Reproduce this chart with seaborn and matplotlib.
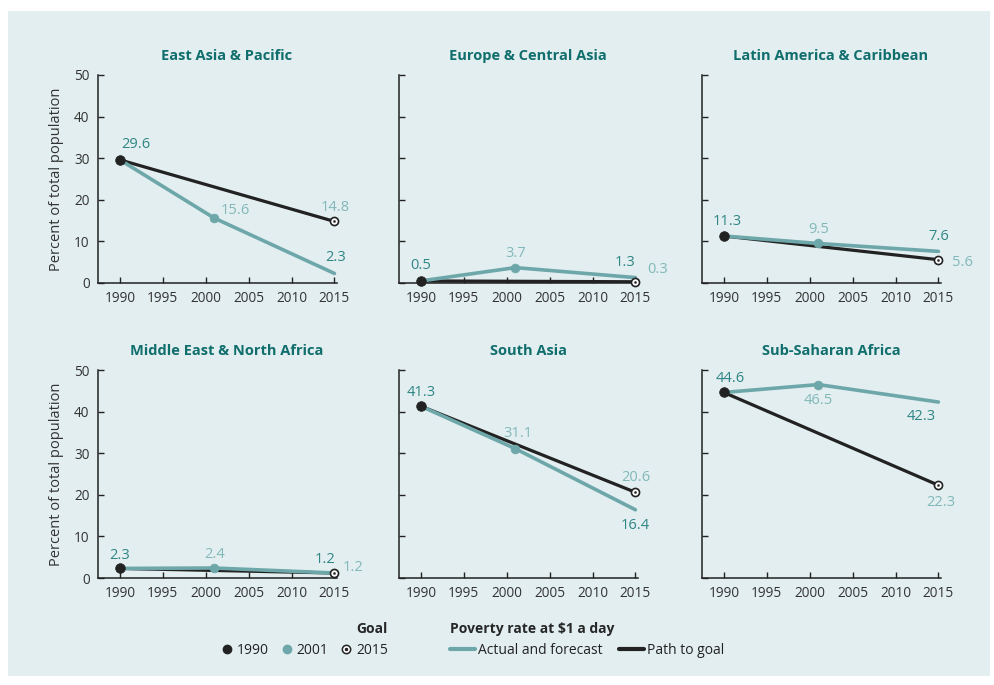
import matplotlib.pyplot as plt
from matplotlib import font_manager
from matplotlib.lines import Line2D
from matplotlib.patches import Rectangle
import pandas as pd
import seaborn as sns

# Data
regions = ["East Asia & Pacific", "Europe & Central Asia", "Latin America & Caribbean",
           "Middle East & North Africa", "South Asia", "Sub-Saharan Africa"]
years = [1990, 2001, 2015]
goal_years = [1990, 2015]
actual = [[29.6, 15.6, 2.3],
          [0.5, 3.7, 1.3],
          [11.3, 9.5, 7.6],
          [2.3, 2.4, 1.2],
          [41.3, 31.1, 16.4],
          [44.6, 46.5, 42.3]]
goal = [[29.6, 14.8],
        [0.5, 0.3],
        [11.3, 5.6],
        [2.3, 1.2],
        [41.3, 20.6],
        [44.6, 22.3]]
year_ticks = [1990, 1995, 2000, 2005, 2010, 2015]
pct_ticks = [0, 10, 20, 30, 40, 50]

# label offsets in pixels: 1990, 2001, 2015 actual, 2015 goal
label_offsets = [
    [(16, 15), (21, 8), (1, 16), (1, 14)],
    [(0, 15), (0, 14), (-10, 15), (22, 12)],
    [(3, 14), (0, 14), (0, 15), (24, -3)],
    [(0, 13), (0, 14), (-9, 14), (19, 6)],
    [(0, 14), (3, 15), (0, -16), (0, 15)],
    [(6, 14), (0, -16), (-17, -14), (2, -17)],
]

BG = "#e2eef0"
TEAL = "#6ea7aa"
DARK_LBL = "#2f8584"
LIGHT_LBL = "#82b8b9"
TITLE_C = "#106e6c"
INK = "#222222"

sns.set_style("ticks")
names = {f.name for f in font_manager.fontManager.ttflist}
font = "Liberation Sans Narrow" if "Liberation Sans Narrow" in names else "Open Sans"
plt.rcParams["font.family"] = [font, "DejaVu Sans"]

W, H = 995, 685
fig = plt.figure(figsize=(W / 100, H / 100), dpi=100)
fig.patch.set_facecolor("white")
fig.patches.append(Rectangle((8 / W, 1 - 676 / H), 982 / W, 665 / H,
                             transform=fig.transFigure, facecolor=BG,
                             edgecolor="none", zorder=-10))

left_px = [98, 399, 702]
top_px = [75, 370]
ax_w, ax_h = 239, 208

for i, name in enumerate(regions):
    r, c = divmod(i, 3)
    ax = fig.add_axes([left_px[c] / W, 1 - (top_px[r] + ax_h) / H, ax_w / W, ax_h / H])
    ax.set_facecolor("none")

    df_a = pd.DataFrame({"year": years, "value": actual[i]})
    df_g = pd.DataFrame({"year": goal_years, "value": goal[i]})
    sns.lineplot(data=df_g, x="year", y="value", ax=ax, color=INK, linewidth=2.3, zorder=2)
    sns.lineplot(data=df_a, x="year", y="value", ax=ax, color=TEAL, linewidth=2.6, zorder=3)

    sns.scatterplot(x=[years[0]], y=[actual[i][0]], ax=ax, color=INK, s=48,
                    edgecolor=INK, zorder=5, clip_on=False)
    sns.scatterplot(x=[years[1]], y=[actual[i][1]], ax=ax, color=TEAL, s=40,
                    edgecolor=TEAL, zorder=5, clip_on=False)
    sns.scatterplot(x=[goal_years[1]], y=[goal[i][1]], ax=ax, color="white", s=34,
                    edgecolor=INK, linewidth=1.2, zorder=5, clip_on=False)
    sns.scatterplot(x=[goal_years[1]], y=[goal[i][1]], ax=ax, color=INK, s=3,
                    edgecolor=INK, zorder=6, clip_on=False)

    pts = [(years[0], actual[i][0], DARK_LBL),
           (years[1], actual[i][1], LIGHT_LBL),
           (years[2], actual[i][2], DARK_LBL),
           (goal_years[1], goal[i][1], LIGHT_LBL)]
    for (x, y, col), (dx, dy) in zip(pts, label_offsets[i]):
        ax.annotate(f"{y:.1f}", (x, y), xytext=(dx, dy), textcoords="offset pixels",
                    ha="center", va="center", fontsize=10.5, color=col, zorder=7)

    ax.set_xlim(1987.45, 2015.3)
    ax.set_ylim(0, 50)
    ax.set_xticks(year_ticks)
    ax.set_yticks(pct_ticks)
    ax.tick_params(direction="in", length=4, width=1, color=INK, labelsize=9.8,
                   labelcolor="#333333")
    ax.tick_params(axis="x", pad=6)
    ax.tick_params(axis="y", pad=6)
    for s in ["top", "right"]:
        ax.spines[s].set_visible(False)
    for s in ["left", "bottom"]:
        ax.spines[s].set_color(INK)
        ax.spines[s].set_linewidth(1.1)
    ax.set_xlabel("")
    if c == 0:
        ax.set_ylabel("Percent of total population", fontsize=10.5, color="#333333",
                      labelpad=7)
    else:
        ax.set_ylabel("")
        ax.set_yticklabels([])
    ax.set_title(name, x=0.54, pad=11, fontsize=10.5, fontweight="bold", color=TITLE_C)

# legends
goal_handles = [
    Line2D([], [], marker="o", color=INK, linestyle="none", markersize=6),
    Line2D([], [], marker="o", color=TEAL, linestyle="none", markersize=6),
    (Line2D([], [], marker="o", markerfacecolor="white", markeredgecolor=INK,
            linestyle="none", markersize=6, markeredgewidth=1.1),
     Line2D([], [], marker="o", color=INK, linestyle="none", markersize=1.5)),
]
leg1 = fig.legend(goal_handles, ["1990", "2001", "2015"], ncol=3, title="Goal",
                  loc="upper right", bbox_to_anchor=(388 / W, 1 - 622 / H),
                  frameon=False, handlelength=0.8, handletextpad=0.3, columnspacing=0.9,
                  borderpad=0, borderaxespad=0, fontsize=10, alignment="right",
                  title_fontproperties={"weight": "bold", "size": 10})
line_handles = [Line2D([], [], color=TEAL, linewidth=3),
                Line2D([], [], color=INK, linewidth=3)]
leg2 = fig.legend(line_handles, ["Actual and forecast", "Path to goal"], ncol=2,
                  title="Poverty rate at $1 a day", loc="upper left",
                  bbox_to_anchor=(450 / W, 1 - 622 / H), frameon=False,
                  handlelength=1.8, handletextpad=0.2, columnspacing=1.2,
                  borderpad=0, borderaxespad=0, fontsize=10, alignment="left",
                  title_fontproperties={"weight": "bold", "size": 10})
for leg in (leg1, leg2):
    for t in leg.get_texts():
        t.set_color("#222222")

fig.savefig("out.png", dpi=100, facecolor=fig.get_facecolor())
